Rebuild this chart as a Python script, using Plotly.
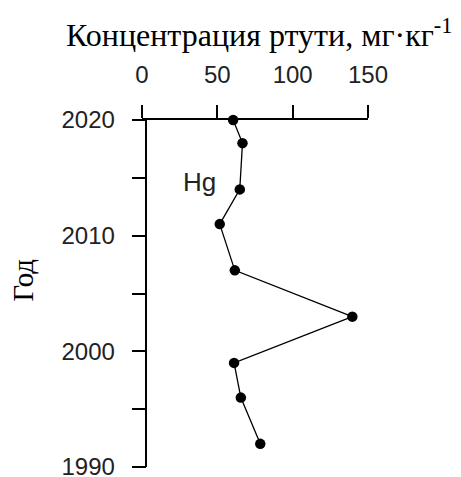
import plotly.graph_objects as go

# Data
years = [2020, 2018, 2014, 2011, 2007, 2003, 1999, 1996, 1992]
hg = [60.5, 66.7, 64.9, 51.6, 61.6, 139.6, 61.1, 65.6, 78.5]

x_ticks = [0, 50, 100, 150]
y_ticks = [1990, 1995, 2000, 2005, 2010, 2015, 2020]
y_ticktext = ["1990", "", "2000", "", "2010", "", "2020"]

# page is rendered with an 8px body margin -> work in page pixels, shift by OFF
OFF = 8
W, H = 461 - OFF, 477 - OFF
L, R, T, B = 142.3 - OFF, 367.7 - OFF, 120.0 - OFF, 466.7 - OFF

def px(xp):
    return (xp - OFF - L) / (R - L)

def py(yp):
    return (B - (yp - OFF)) / (B - T)

fig = go.Figure()
fig.add_trace(go.Scatter(
    x=hg, y=years, mode="lines+markers",
    line=dict(color="black", width=1.3),
    marker=dict(color="black", size=10.5, symbol="circle"),
    cliponaxis=False, showlegend=False,
))

tickfont = dict(size=24, family="Liberation Sans, Arial", color="#222")

fig.update_layout(
    width=W, height=H,
    margin=dict(l=L, r=W - R, t=T, b=H - B, pad=0, autoexpand=False),
    paper_bgcolor="white", plot_bgcolor="white",
    font=dict(family="Liberation Sans, Arial", color="black"),
    xaxis=dict(
        range=[0, 150], side="top", showline=True, linecolor="black", linewidth=1.5,
        ticks="outside", ticklen=13, tickwidth=1.5, tickcolor="black",
        tickvals=x_ticks, tickfont=tickfont, automargin=False,
        ticklabelstandoff=13, ticklabeloverflow="allow",
        showgrid=False, zeroline=False,
    ),
    yaxis=dict(
        range=[1990, 2020], anchor="free", position=px(146.7),
        showline=True, linecolor="black", linewidth=1.5,
        ticks="outside", ticklen=14, tickwidth=1.5, tickcolor="black",
        tickvals=y_ticks, ticktext=y_ticktext, automargin=False,
        tickfont=tickfont, ticklabeloverflow="allow",
        ticklabelstandoff=12, showgrid=False, zeroline=False,
    ),
    annotations=[
        dict(text="Концентрация ртути, мг·кг<sup>-1</sup>", xref="paper", yref="paper",
             x=px(259), y=py(33), xanchor="center", yanchor="middle", showarrow=False,
             font=dict(family="Liberation Serif, Times New Roman", size=32, color="black")),
        dict(text="Год", xref="paper", yref="paper", textangle=-90,
             x=px(24), y=py(280), xanchor="center", yanchor="middle", showarrow=False,
             font=dict(family="Liberation Serif, Times New Roman", size=29, color="black")),
        dict(text="Hg", xref="paper", yref="paper",
             x=px(200), y=py(182), xanchor="center", yanchor="middle", showarrow=False,
             font=dict(family="Liberation Sans, Arial", size=26, color="#222")),
    ],
)

fig.write_html("out.html")
